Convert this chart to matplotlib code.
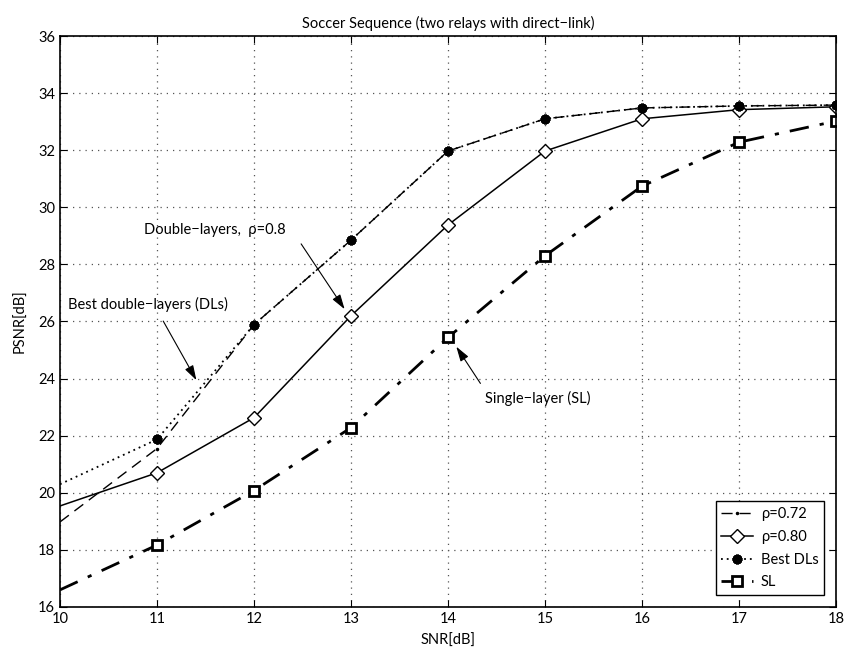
import numpy as np
import matplotlib
matplotlib.use("Agg")
import matplotlib.pyplot as plt

plt.rcParams['font.family'] = ['Lato', 'DejaVu Sans']

# data
snr = [10, 11, 12, 13, 14, 15, 16, 17, 18]
rho072 = [18.98, 21.55, 25.89, 28.85, 31.97, 33.1, 33.48, 33.55, 33.58]
rho080 = [19.54, 20.7, 22.63, 26.2, 29.38, 31.97, 33.1, 33.42, 33.52]
best_dl = [20.3, 21.87, 25.89, 28.85, 31.97, 33.1, 33.48, 33.55, 33.58]
single_layer = [16.6, 18.17, 20.08, 22.28, 25.44, 28.3, 30.74, 32.28, 33.02]

labels = ['ρ=0.72', 'ρ=0.80', 'Best DLs', 'SL']
xticks = [10, 11, 12, 13, 14, 15, 16, 17, 18]
yticks = [16, 18, 20, 22, 24, 26, 28, 30, 32, 34, 36]

fig = plt.figure(figsize=(8.5, 6.5), dpi=100)
ax = fig.add_axes([60/850, 1-607/650, 776/850, 571/650])

mk = slice(1, None)  # no markers at the first point
ax.plot(snr, rho072, 'k', lw=1.0, dashes=(8, 5), marker='.', ms=3, markevery=mk, label=labels[0])
ax.plot(snr, rho080, 'k-', lw=1.1, marker='D', ms=7, mfc='white', mec='k', mew=1.0,
        markevery=mk, label=labels[1])
ax.plot(snr, best_dl, 'k', lw=1.3, dashes=(1, 2.2), marker=(8, 2, 0), ms=7, mec='k', mew=2.2,
        markevery=mk, label=labels[2])
ax.plot(snr, single_layer, 'k', lw=2.0, marker='s', ms=7, mfc='white', mec='k', mew=2.0,
        dashes=(7, 4, 1.5, 4), markevery=mk, label=labels[3])

ax.set_xlim(10, 18)
ax.set_ylim(16, 36)
ax.set_xticks(xticks)
ax.set_yticks(yticks)
ax.tick_params(direction='in', top=True, right=True, length=5, labelsize=10.5, width=0.8)
ax.grid(True, linestyle=(0, (1, 4)), color='#555555', lw=0.9)
for s in ax.spines.values():
    s.set_linewidth(1.2)

ax.set_title('Soccer Sequence (two relays with direct−link)', fontsize=10.5, pad=6)
ax.set_xlabel('SNR[dB]', fontsize=10.5, labelpad=6)
ax.set_ylabel('PSNR[dB]', fontsize=10.5, labelpad=8)

arrow = dict(arrowstyle='-|>,head_length=0.9,head_width=0.28', color='k', lw=0.8)
ax.annotate('Double−layers,  ρ=0.8', xy=(10.87, 29.2), fontsize=10.5, va='center', ha='left')
ax.annotate('', xy=(12.95, 26.35), xytext=(12.47, 28.8), arrowprops=arrow)
ax.annotate('Best double−layers (DLs)', xy=(10.08, 26.58), fontsize=10.5, va='center', ha='left')
ax.annotate('', xy=(11.42, 23.86), xytext=(11.05, 26.1), arrowprops=arrow)
ax.annotate('Single−layer (SL)', xy=(14.38, 23.3), fontsize=10.5, va='center', ha='left')
ax.annotate('', xy=(14.07, 25.2), xytext=(14.35, 23.75), arrowprops=arrow)

leg = ax.legend(loc='lower right', fontsize=10.5, fancybox=False, edgecolor='k',
                framealpha=1, handlelength=2.2, borderaxespad=0.8, labelspacing=0.6,
                handletextpad=0.5)
leg.get_frame().set_linewidth(1.0)

fig.savefig('out.png', dpi=100)
